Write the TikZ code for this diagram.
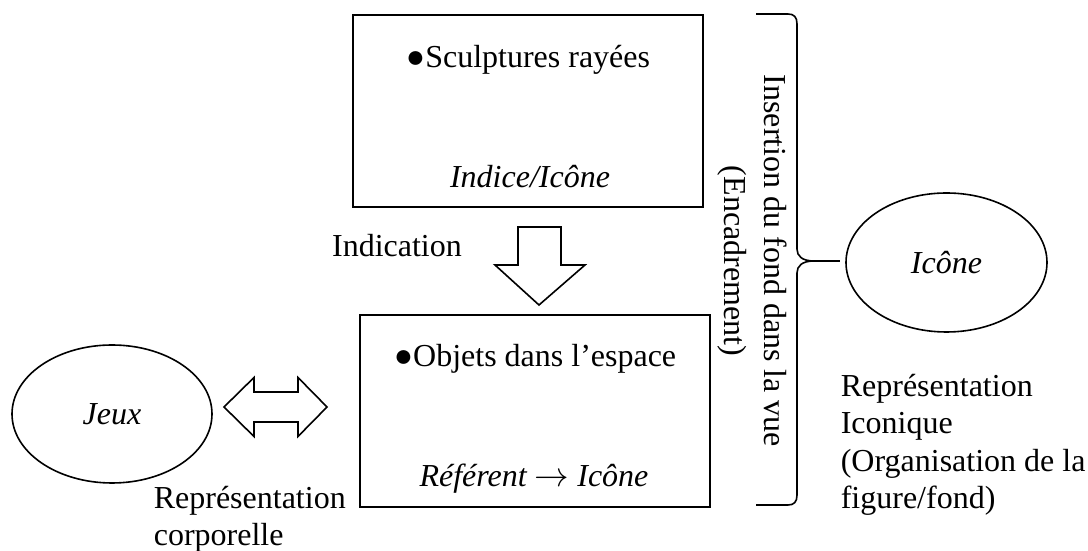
\documentclass[tikz,border=0pt]{standalone}
\usepackage{fontspec}
\setmainfont{Liberation Serif}
\usepackage{tikz}
\usetikzlibrary{positioning, shapes.geometric}

\begin{document}
\begin{tikzpicture}[x=0.5pt, y=0.5pt, line width=0.8pt,
		box/.style={draw, minimum width=175pt, minimum height=96pt, inner sep=0pt},
		oval/.style={draw, ellipse, minimum width=100pt, minimum height=69pt, inner sep=0pt},
		txt/.style={font=\fontsize{16}{18.75}\selectfont, inner sep=0pt},
		itxt/.style={font=\fontsize{16}{18.75}\selectfont\itshape, inner sep=0pt}]
		\useasboundingbox (0,0) rectangle (1088,551);
		% boxes
		\node[box] (sculpt) at (528,440) {};
		\node[box] (objets) at (535,140) {};
		\node[txt, anchor=base] (sculpt-item) at (528,483) {●Sculptures rayées};
		\node[itxt, anchor=base] (sculpt-type) at (530,363) {Indice/Icône};
		\node[txt, anchor=base] (objets-item) at (535,184) {●Objets dans l’espace};
		\node[itxt, anchor=base] (objets-type) at (534,64) {Référent $\rightarrow$ Icône};
		
		% ovals
		\node[oval, itxt] (jeux) at (112,137) {Jeux};
		\node[oval, itxt, minimum width=100.5pt, minimum height=69.5pt] (icone) at (946.5,288.5) {Icône};
		
		% hollow arrows
		\draw (518,324) -- (561,324) -- (561,286) -- (585,286) -- (539,246) -- (495,286) -- (518,286) -- cycle;
		\node[txt, anchor=base] (indication) at (397,294) {Indication};
		\draw (224,144) -- (254,173.5) -- (254,159) -- (298,159) -- (298,173.5) -- (327,144)
			-- (298,114.5) -- (298,129) -- (254,129) -- (254,114.5) -- cycle;
		
		% brace
		\coordinate (brtip) at (840,290);
		\draw (756,537) -- (788,537) .. controls (794,537) and (797,534) .. (797,527) -- (797,302)
			.. controls (797,295) and (802,290) .. (814,290)
			.. controls (802,290) and (797,285) .. (797,278) -- (797,56)
			.. controls (797,49) and (794,46) .. (788,46) -- (756,46);
		\draw (814,290) -- (brtip);
		\node[txt, font=\fontsize{16}{20}\selectfont, rotate=-90, align=center] (insertion) at (752,290) {Insertion du fond dans la vue\\(Encadrement)};
		
		% labels:
		\node[txt, anchor=north west, align=left] (repr-ico) at (840,178) {Représentation\\Iconique\\(Organisation de la\\figure/fond)};
		\node[txt, anchor=north west, align=left] (repr-corp) at (153,66) {Représentation\\corporelle};
\end{tikzpicture}
\end{document}
